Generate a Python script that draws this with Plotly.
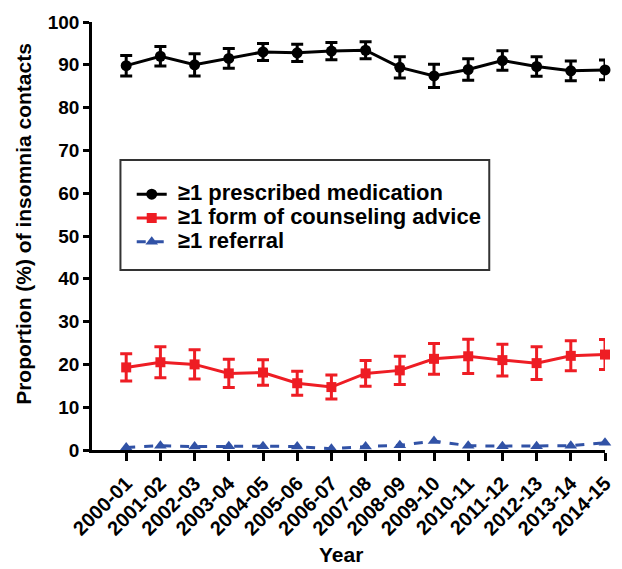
import plotly.graph_objects as go

# Fiscal years on the x axis
years = ["2000-01", "2001-02", "2002-03", "2003-04", "2004-05", "2005-06", "2006-07",
         "2007-08", "2008-09", "2009-10", "2010-11", "2011-12", "2012-13", "2013-14", "2014-15"]

# Proportion (%) of insomnia contacts, with 95% CI half-widths
medication = [89.8, 92.0, 90.0, 91.5, 93.0, 92.8, 93.2, 93.4, 89.4, 87.4, 88.9, 91.0, 89.6, 88.6, 88.8]
medication_err = [2.4, 2.3, 2.6, 2.3, 2.0, 2.0, 2.0, 2.0, 2.5, 2.7, 2.5, 2.3, 2.3, 2.3, 2.3]

counseling = [19.3, 20.5, 20.0, 17.9, 18.1, 15.6, 14.7, 17.9, 18.6, 21.3, 21.9, 21.0, 20.3, 22.0, 22.3]
counseling_err = [3.2, 3.6, 3.4, 3.3, 3.0, 2.8, 2.8, 3.0, 3.3, 3.6, 4.0, 3.7, 3.8, 3.5, 3.5]

referral = [0.6, 1.0, 0.8, 0.9, 0.9, 0.8, 0.3, 0.8, 1.1, 2.1, 1.0, 0.9, 0.9, 1.0, 1.7]

x = list(range(len(years)))
FONT = "Liberation Sans, Arial, sans-serif"
RED = "#EE1D24"
BLUE = "#3152A6"

# plot area in pixels
L, R, T, B = 92, 7, 22, 119
W, H = 622, 569
PW, PH = W - L - R, H - T - B


def px_x(p):
    return (p - L) / PW


def px_y(p):
    return (H - B - p) / PH


def legend_name(s):
    return "<span style='font-size:22px'>\u00a0" + s + "</span>"


fig = go.Figure()

fig.add_trace(go.Scatter(
    x=x, y=medication, name=legend_name("≥1 prescribed medication"),
    mode="lines+markers",
    line=dict(color="black", width=3),
    marker=dict(symbol="circle", size=11, color="black"),
    error_y=dict(type="data", array=medication_err, color="black", thickness=3, width=6),
    cliponaxis=False,
))
fig.add_trace(go.Scatter(
    x=x, y=counseling, name=legend_name("≥1 form of counseling advice"),
    mode="lines+markers",
    line=dict(color=RED, width=3),
    marker=dict(symbol="square", size=10, color=RED),
    error_y=dict(type="data", array=counseling_err, color=RED, thickness=3, width=6),
    cliponaxis=False,
))
fig.add_trace(go.Scatter(
    x=x, y=referral, name=legend_name("≥1 referral"),
    mode="lines+markers",
    line=dict(color=BLUE, width=3, dash="dash"),
    marker=dict(symbol="triangle-up", size=11, color=BLUE),
    cliponaxis=False,
))

# Legend frame
fig.add_shape(type="rect", xref="paper", yref="paper",
              x0=px_x(121), x1=px_x(497), y0=px_y(270), y1=px_y(160),
              line=dict(color="#333333", width=2), fillcolor="rgba(0,0,0,0)")

# Axis titles
fig.add_annotation(text="Proportion (%) of insomnia contacts", xref="paper", yref="paper",
                   x=px_x(22), y=px_y(223.5), xanchor="center", yanchor="middle",
                   textangle=-90, showarrow=False,
                   font=dict(family=FONT, size=21, color="black", weight="bold"))
fig.add_annotation(text="Year", xref="paper", yref="paper",
                   x=px_x(346), y=px_y(554), xanchor="center", yanchor="middle",
                   showarrow=False,
                   font=dict(family=FONT, size=21, color="black", weight="bold"))

fig.update_layout(
    width=W, height=H,
    margin=dict(l=L, r=R, t=T, b=B),
    plot_bgcolor="white", paper_bgcolor="white",
    font=dict(family=FONT, color="black", size=15, weight="bold"),
    showlegend=True,
    legend=dict(
        x=px_x(132.5), y=px_y(177.3), xanchor="left", yanchor="top",
        bgcolor="rgba(0,0,0,0)", borderwidth=0,
        font=dict(family=FONT, size=16, color="black", weight="bold"),
        itemwidth=30, tracegroupgap=0,
    ),
    xaxis=dict(
        range=[-1, 14],
        tickmode="array", tickvals=x, ticktext=years, tickangle=-45,
        ticklabeloverflow="allow", ticklabelstandoff=3,
        showline=True, linecolor="black", linewidth=2.5,
        ticks="outside", ticklen=8, tickwidth=2.5, tickcolor="black",
        showgrid=False, zeroline=False,
        tickfont=dict(family=FONT, size=20, weight="bold"),
    ),
    yaxis=dict(
        range=[0, 100], tickvals=list(range(0, 101, 10)),
        showline=True, linecolor="black", linewidth=2.5,
        ticks="outside", ticklen=6, tickwidth=2.5, tickcolor="black",
        showgrid=False, zeroline=False,
        tickfont=dict(family=FONT, size=19, weight="bold"),
    ),
)

fig.write_html("out.html")
